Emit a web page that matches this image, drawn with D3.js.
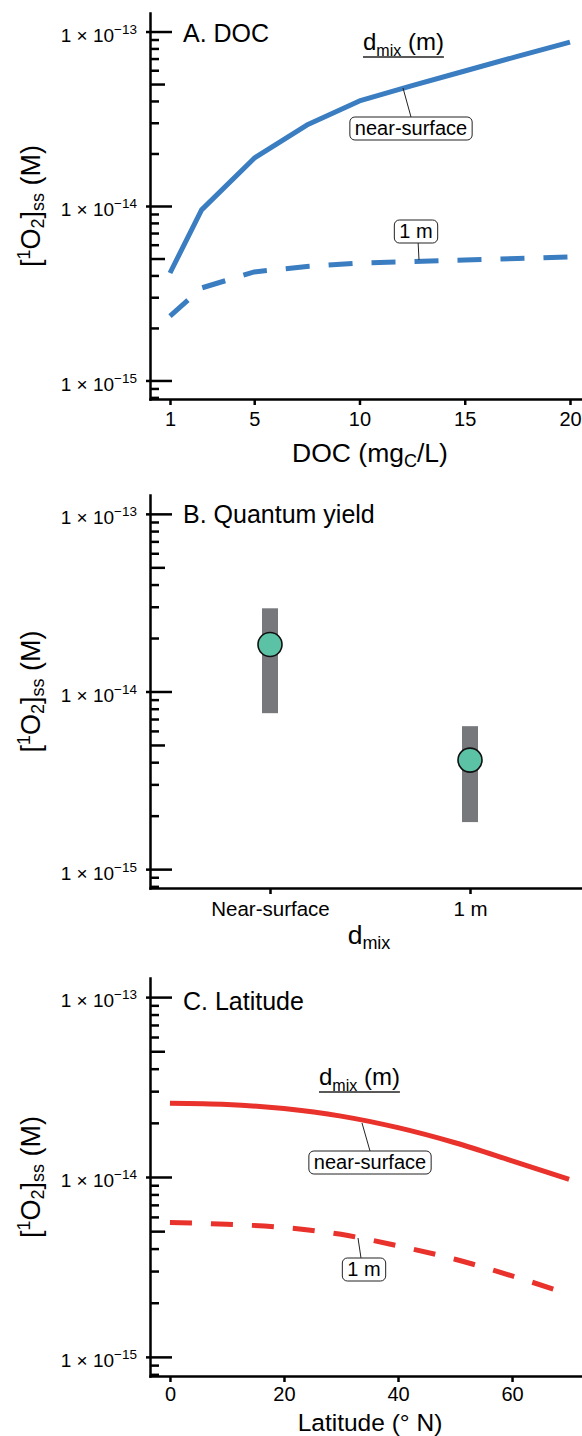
<!DOCTYPE html>
<html>
<head>
<meta charset="utf-8">
<script src="https://cdn.jsdelivr.net/npm/d3@7"></script>
<style>
  body { margin: 0; background: #fff; }
  svg { display: block; font-family: "Liberation Sans", Arial, sans-serif; }
</style>
</head>
<body>
<svg id="chart" width="582" height="1436"></svg>
<script>
// Panel A: DOC (mgC/L)
const docValues = [1, 2.5, 5, 7.5, 10, 12.5, 15, 17.5, 20];
const docNearSurface = [4.13e-15, 9.5e-15, 1.88e-14, 2.91e-14, 4.0e-14, 4.9e-14, 5.94e-14, 7.2e-14, 8.7e-14];
const doc1m = [2.34e-15, 3.39e-15, 4.19e-15, 4.5e-15, 4.71e-15, 4.8e-15, 4.9e-15, 5.0e-15, 5.1e-15];
const docTicks = [1, 5, 10, 15, 20];

// Panel B: quantum yield (median and range)
const qyCategories = ["Near-surface", "1 m"];
const qyMedian = [1.84e-14, 4.11e-15];
const qyLow = [7.55e-15, 1.84e-15];
const qyHigh = [2.94e-14, 6.38e-15];

// Panel C: latitude (° N)
const latValues = [0, 10, 20, 30, 40, 50, 60, 70];
const latNearSurface = [2.57e-14, 2.53e-14, 2.4e-14, 2.18e-14, 1.88e-14, 1.55e-14, 1.23e-14, 9.7e-15];
const lat1m = [5.58e-15, 5.46e-15, 5.24e-15, 4.8e-15, 4.14e-15, 3.49e-15, 2.82e-15, 2.23e-15];
const latTicks = [0, 20, 40, 60];

const yMajor = [1e-15, 1e-14, 1e-13];
const yDomain = [7.83e-16, 1.277e-13];

const svg = d3.select('#chart');
svg.append('rect').attr('width', 582).attr('height', 1436).attr('fill', '#fff');

const AXIS_X = 150;
const blue = '#3b7dc1', red = '#e8322b';

// minor log ticks 2..9 x 10^n inside the domain
const minorTicks = [];
[-16, -15, -14, -13].forEach(e => {
    for (let k = 2; k <= 9; k++) {
        const v = k * Math.pow(10, e);
        if (v >= yDomain[0] && v <= yDomain[1]) minorTicks.push({v: v, k: k});
    }
});

function drawYAxis(g, y) {
    // short minor ticks
    g.append('g')
        .attr('transform', 'translate(' + AXIS_X + ',0)')
        .call(d3.axisLeft(y).tickValues(minorTicks.filter(d => d.k != 5).map(d => d.v))
            .tickSize(-9).tickSizeOuter(0).tickFormat(''))
        .call(a => a.select('.domain').remove());
    // medium ticks at 5 x 10^n
    g.append('g')
        .attr('transform', 'translate(' + AXIS_X + ',0)')
        .call(d3.axisLeft(y).tickValues(minorTicks.filter(d => d.k == 5).map(d => d.v))
            .tickSize(-15).tickSizeOuter(0).tickFormat(''))
        .call(a => a.select('.domain').remove());
    // major ticks with 1 x 10^n labels
    const major = g.append('g')
        .attr('class', 'major')
        .attr('transform', 'translate(' + AXIS_X + ',0)')
        .call(d3.axisLeft(y).tickValues(yMajor).tickSize(-22).tickSizeOuter(0).tickPadding(13));
    major.selectAll('.tick line').attr('x1', -4);
    major.selectAll('.tick text').each(function (d) {
        const t = d3.select(this).text('').attr('dy', '0.52em').attr('font-size', 19);
        t.append('tspan').text('1 \u00d7 10');
        t.append('tspan').attr('font-size', 13.5).attr('dy', -8).text('\u2212' + Math.abs(Math.round(Math.log10(d))));
    });
    g.selectAll('.tick line').attr('stroke', '#000').attr('stroke-width', 2.5);
    g.selectAll('.domain').attr('stroke', '#000').attr('stroke-width', 2.5).attr('stroke-linecap', 'square');
    g.selectAll('.tick text').attr('fill', '#000').attr('font-family', null);

    // y title [1O2]ss (M)
    const mid = (y.range()[0] + y.range()[1]) / 2;
    const title = g.append('text')
        .attr('transform', 'translate(40,' + mid + ') rotate(-90)')
        .attr('text-anchor', 'middle')
        .attr('font-size', 27);
    title.append('tspan').text('[');
    title.append('tspan').attr('font-size', 18).attr('dy', -10).text('1');
    title.append('tspan').attr('dy', 10).text('O');
    title.append('tspan').attr('font-size', 18).attr('dy', 4).text('2');
    title.append('tspan').attr('dy', -4).text(']');
    title.append('tspan').attr('font-size', 18).attr('dy', 4).text('ss');
    title.append('tspan').attr('dy', -4).text(' (M)');
}

function drawXAxis(g, x, y, ticks, fmt, fontSize, pad) {
    const ax = g.append('g')
        .attr('transform', 'translate(0,' + y.range()[0] + ')')
        .call(d3.axisBottom(x).tickValues(ticks).tickSize(6).tickSizeOuter(0).tickPadding(pad).tickFormat(fmt));
    ax.selectAll('.tick line').attr('stroke', '#000').attr('stroke-width', 2.5);
    ax.select('.domain').attr('stroke', '#000').attr('stroke-width', 2.5).attr('stroke-linecap', 'square');
    ax.selectAll('.tick text').attr('fill', '#000').attr('font-family', null).attr('font-size', fontSize);
}

function panelTitle(g, y, text) {
    g.append('text').attr('x', 183).attr('y', y).attr('font-size', 25).text(text);
}

function boxLabel(g, cx, top, text, leaderTo) {
    const lg = g.append('g');
    lg.append('line')
        .attr('x1', leaderTo[0]).attr('y1', top)
        .attr('x2', leaderTo[1]).attr('y2', leaderTo[2])
        .attr('stroke', '#222').attr('stroke-width', 1);
    const box = lg.append('rect');
    const t = lg.append('text')
        .attr('x', cx).attr('y', top + 18)
        .attr('text-anchor', 'middle')
        .attr('font-size', 20)
        .text(text);
    const w = t.node().getComputedTextLength() + 10;
    box.attr('x', cx - w / 2).attr('y', top)
        .attr('width', w).attr('height', 23)
        .attr('rx', 5)
        .attr('fill', '#fff').attr('stroke', '#222').attr('stroke-width', 1);
}

function dmixHeader(g, x0, baseline) {
    const t = g.append('text').attr('x', x0).attr('y', baseline).attr('font-size', 24);
    t.append('tspan').text('d');
    t.append('tspan').attr('font-size', 16).attr('dy', 6).text('mix');
    t.append('tspan').attr('dy', -6).text(' (m)');
    const w = t.node().getComputedTextLength();
    g.append('line')
        .attr('x1', x0).attr('x2', x0 + w)
        .attr('y1', baseline + 7).attr('y2', baseline + 7)
        .attr('stroke', '#222').attr('stroke-width', 1.5);
}

// ---------- Panel A ----------
{
    const g = svg.append('g');
    const x = d3.scaleLinear().domain([0.05, 20.95]).range([AXIS_X, 590]);
    const y = d3.scaleLog().domain(yDomain).range([399, 13]);

    const lineNear = d3.line().x((d, i) => x(docValues[i])).y(d => y(d));
    g.append('path').datum(docNearSurface)
        .attr('d', lineNear).attr('fill', 'none')
        .attr('stroke', blue).attr('stroke-width', 5).attr('stroke-linejoin', 'round');
    g.append('path').datum(doc1m)
        .attr('d', lineNear).attr('fill', 'none')
        .attr('stroke', blue).attr('stroke-width', 5).attr('stroke-dasharray', '24,19');

    drawYAxis(g, y);
    drawXAxis(g, x, y, docTicks, d3.format('d'), 20, 7);
    panelTitle(g, 42, 'A. DOC');

    const xt = g.append('text').attr('x', 370).attr('y', 462).attr('text-anchor', 'middle').attr('font-size', 26.5);
    xt.append('tspan').text('DOC (mg');
    xt.append('tspan').attr('font-size', 18).attr('dy', 5).text('C');
    xt.append('tspan').attr('dy', -5).text('/L)');

    dmixHeader(g, 363, 50);
    boxLabel(g, 411, 117, 'near-surface', [411, 403, 88]);
    boxLabel(g, 416, 220, '1 m', [417, 419, 260]);
}

// ---------- Panel B ----------
{
    const g = svg.append('g');
    const x = d3.scaleLinear().domain([-0.6, 1.6]).range([AXIS_X, 590]);
    const y = d3.scaleLog().domain(yDomain).range([888, 495]);

    g.selectAll('rect.range').data(qyCategories).enter().append('rect')
        .attr('class', 'range')
        .attr('x', (d, i) => x(i) - 8)
        .attr('width', 16)
        .attr('y', (d, i) => y(qyHigh[i]))
        .attr('height', (d, i) => y(qyLow[i]) - y(qyHigh[i]))
        .attr('fill', '#77787c');
    g.selectAll('circle').data(qyMedian).enter().append('circle')
        .attr('cx', (d, i) => x(i))
        .attr('cy', d => y(d))
        .attr('r', 12)
        .attr('fill', '#5cc2a6').attr('stroke', '#111').attr('stroke-width', 1.6);

    drawYAxis(g, y);
    drawXAxis(g, x, y, [0, 1], i => qyCategories[i], 20.5, 7);
    panelTitle(g, 523, 'B. Quantum yield');

    const xt = g.append('text').attr('x', 369).attr('y', 944).attr('text-anchor', 'middle').attr('font-size', 26.5);
    xt.append('tspan').text('d');
    xt.append('tspan').attr('font-size', 18).attr('dy', 5).text('mix');
}

// ---------- Panel C ----------
{
    const g = svg.append('g');
    const x = d3.scaleLinear().domain([-3.5, 73.5]).range([AXIS_X, 589]);
    const y = d3.scaleLog().domain(yDomain).range([1376, 978]);

    const line = d3.line().x((d, i) => x(latValues[i])).y(d => y(d)).curve(d3.curveMonotoneX);
    g.append('path').datum(latNearSurface)
        .attr('d', line).attr('fill', 'none')
        .attr('stroke', red).attr('stroke-width', 5);
    g.append('path').datum(lat1m)
        .attr('d', line).attr('fill', 'none')
        .attr('stroke', red).attr('stroke-width', 5).attr('stroke-dasharray', '22,19');

    drawYAxis(g, y);
    drawXAxis(g, x, y, latTicks, d3.format('d'), 20, 5);
    panelTitle(g, 1010, 'C. Latitude');

    g.append('text').attr('x', 370).attr('y', 1430.5).attr('text-anchor', 'middle').attr('font-size', 24.5)
        .text('Latitude (\u00b0 N)');

    dmixHeader(g, 319, 1085);
    boxLabel(g, 370, 1151, 'near-surface', [370, 362, 1123]);
    boxLabel(g, 364, 1258, '1 m', [361, 358, 1238]);
}
</script>
</body>
</html>
